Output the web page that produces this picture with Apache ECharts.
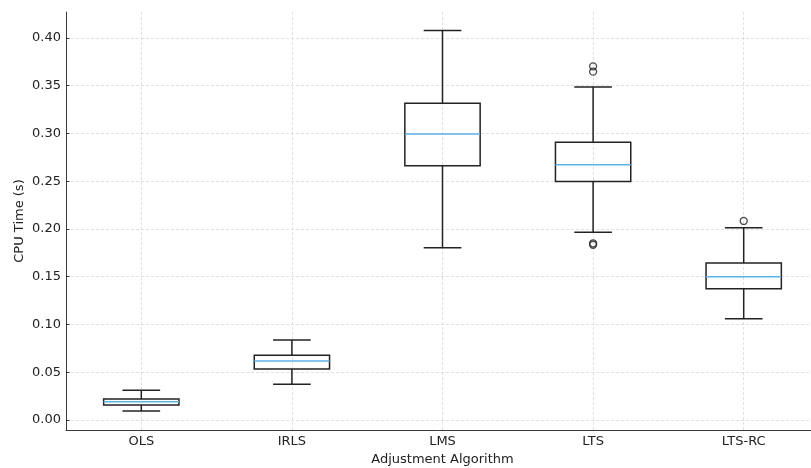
<!DOCTYPE html>
<html>
<head>
<meta charset="utf-8">
<script src="https://cdn.jsdelivr.net/npm/echarts@6/dist/echarts.min.js"></script>
<style>
  html, body { margin: 0; padding: 0; background: #fff; }
  #chart { width: 811px; height: 468px; }
</style>
</head>
<body>
<div id="chart"></div>
<script>
// values
const categories = ['OLS', 'IRLS', 'LMS', 'LTS', 'LTS-RC'];
const lowWhisker = [0.0094, 0.0374, 0.1804, 0.1965, 0.1061];
const q1 = [0.0157, 0.0534, 0.2663, 0.2496, 0.1375];
const median = [0.0192, 0.0618, 0.2995, 0.2673, 0.1501];
const q3 = [0.0220, 0.0677, 0.3316, 0.2908, 0.1644];
const highWhisker = [0.0311, 0.0838, 0.4077, 0.3487, 0.2014];
// [category index, value]
const outliers = [[3, 0.3703], [3, 0.3647], [3, 0.1850], [3, 0.1835], [4, 0.2084]];
const yTicks = [0, 0.05, 0.10, 0.15, 0.20, 0.25, 0.30, 0.35, 0.40];

const boxData = categories.map((c, i) => [i, lowWhisker[i], q1[i], median[i], q3[i], highWhisker[i]]);

const textColor = '#222';
const lineColor = '#222';

function renderBox(params, api) {
  const i = api.value(0);
  const pLow = api.coord([i, api.value(1)]);
  const pQ1 = api.coord([i, api.value(2)]);
  const pMed = api.coord([i, api.value(3)]);
  const pQ3 = api.coord([i, api.value(4)]);
  const pHigh = api.coord([i, api.value(5)]);
  const band = api.size([1, 0])[0];
  const hb = band * 0.25;   // half box width
  const hc = band * 0.125;  // half cap width
  const cx = pMed[0];
  const st = { stroke: lineColor, lineWidth: 1.5, fill: null };
  return {
    type: 'group',
    children: [
      { type: 'line', shape: { x1: cx, y1: pQ3[1], x2: cx, y2: pHigh[1] }, style: st },
      { type: 'line', shape: { x1: cx, y1: pQ1[1], x2: cx, y2: pLow[1] }, style: st },
      { type: 'line', shape: { x1: cx - hc, y1: pHigh[1], x2: cx + hc, y2: pHigh[1] }, style: st },
      { type: 'line', shape: { x1: cx - hc, y1: pLow[1], x2: cx + hc, y2: pLow[1] }, style: st },
      { type: 'rect', shape: { x: cx - hb, y: pQ3[1], width: hb * 2, height: pQ1[1] - pQ3[1] },
        style: { stroke: lineColor, lineWidth: 1.5, fill: 'rgba(255,255,255,0)' } },
      { type: 'line', shape: { x1: cx - hb, y1: pMed[1], x2: cx + hb, y2: pMed[1] },
        style: { stroke: '#5bb3e6', lineWidth: 1.5 } }
    ]
  };
}

const chart = echarts.init(document.getElementById('chart'));
chart.setOption({
  animation: false,
  grid: { left: 66, width: 753, top: 12, height: 418, outerBoundsMode: 'none', containLabel: false },
  xAxis: {
    type: 'category',
    data: categories,
    boundaryGap: true,
    name: 'Adjustment Algorithm',
    nameLocation: 'middle',
    nameGap: 23,
    nameMoveOverlap: false,
    nameTextStyle: { color: textColor, fontSize: 13, fontFamily: 'DejaVu Sans' },
    axisLine: { onZero: false, lineStyle: { color: '#3a3a3a', width: 1 } },
    axisTick: { alignWithLabel: true, inside: true, length: 3.5, lineStyle: { color: '#3a3a3a' } },
    axisLabel: { color: textColor, fontSize: 13, fontFamily: 'DejaVu Sans', margin: 5 },
    splitLine: { show: true, alignWithLabel: true, lineStyle: { color: '#d9d9d9', type: [3, 2], width: 0.8 } }
  },
  yAxis: {
    type: 'value',
    min: -0.0105,
    max: 0.4272,
    name: 'CPU Time (s)',
    nameLocation: 'middle',
    nameGap: 40,
    nameMoveOverlap: false,
    nameTextStyle: { color: textColor, fontSize: 13, fontFamily: 'DejaVu Sans' },
    axisLine: { show: true, onZero: false, lineStyle: { color: '#3a3a3a', width: 1 } },
    axisTick: { show: true, inside: true, length: 3.5, customValues: yTicks, lineStyle: { color: '#3a3a3a' } },
    axisLabel: {
      color: textColor, fontSize: 13, fontFamily: 'DejaVu Sans', margin: 5,
      customValues: yTicks,
      formatter: v => v.toFixed(2)
    },
    splitLine: { show: true, lineStyle: { color: '#d9d9d9', type: [3, 2], width: 0.8 } }
  },
  series: [
    {
      type: 'custom',
      renderItem: renderBox,
      encode: { x: 0, y: [1, 2, 3, 4, 5] },
      data: boxData,
      z: 3
    },
    {
      type: 'scatter',
      data: outliers,
      symbol: 'circle',
      symbolSize: 7,
      itemStyle: { color: 'rgba(255,255,255,0)', borderColor: '#222', borderWidth: 1.3 },
      z: 4
    }
  ]
});
</script>
</body>
</html>
